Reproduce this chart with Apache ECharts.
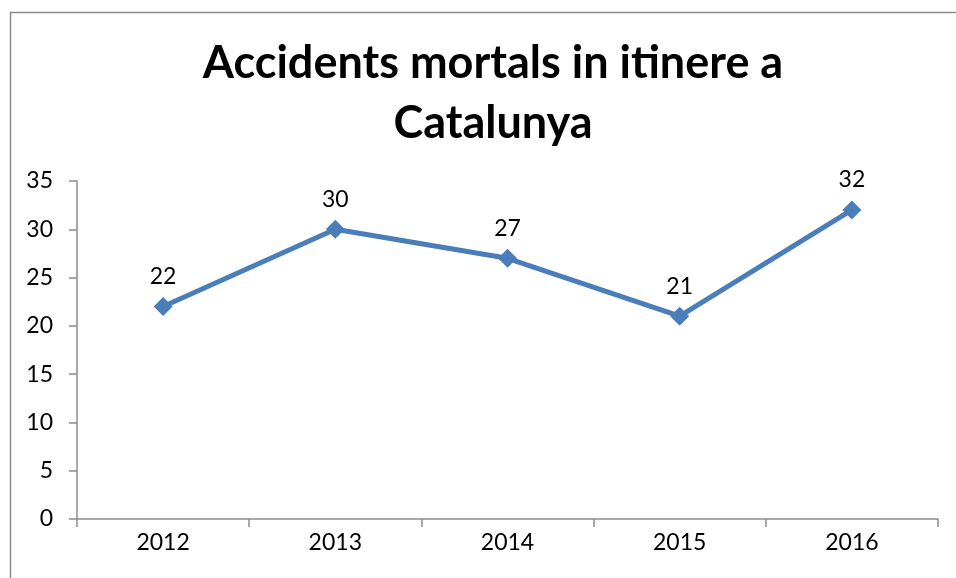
<!DOCTYPE html>
<html>
<head>
<meta charset="utf-8">
<script src="https://cdn.jsdelivr.net/npm/echarts@6/dist/echarts.min.js"></script>
<style>html,body{margin:0;padding:0;background:#fff}#c{width:956px;height:578px}</style>
</head>
<body>
<div id="c"></div>
<script>
var titleText = 'Accidents mortals in itinere a\nCatalunya';
var categories = ['2012', '2013', '2014', '2015', '2016'];
var values = [22, 30, 27, 21, 32];
var yTicks = [0, 5, 10, 15, 20, 25, 30, 35];

var chart = echarts.init(document.getElementById('c'), null, {renderer: 'canvas'});
var font = 'Lato, "Open Sans", sans-serif';
chart.setOption({
  animation: false,
  backgroundColor: '#fff',
  graphic: [{
    type: 'rect', left: 8, top: 10, shape: {x: 0, y: 0, width: 1200, height: 1200},
    style: {fill: 'none', stroke: '#8c8c8c', lineWidth: 1.5}, silent: true
  }],
  title: {
    text: titleText, left: 488, textAlign: 'center', top: 28,
    textStyle: {fontFamily: font, fontWeight: 'bold', fontSize: 45, lineHeight: 60, color: '#000'}
  },
  grid: {left: 77, right: 18, top: 181, bottom: 59, containLabel: false},
  xAxis: {
    type: 'category', data: categories, boundaryGap: true,
    axisLine: {lineStyle: {color: '#8c8c8c', width: 1.5}},
    axisTick: {show: true, length: 8, inside: false, lineStyle: {color: '#8c8c8c', width: 1.5}},
    axisLabel: {fontFamily: font, fontSize: 23, color: '#000', margin: 12}
  },
  yAxis: {
    type: 'value', min: yTicks[0], max: yTicks[yTicks.length - 1], interval: 5,
    axisLine: {show: true, lineStyle: {color: '#8c8c8c', width: 1.5}},
    axisTick: {show: true, length: 8, lineStyle: {color: '#8c8c8c', width: 1.5}},
    splitLine: {show: false},
    axisLabel: {fontFamily: font, fontSize: 23, color: '#000', margin: 24}
  },
  series: [{
    type: 'line', data: values,
    symbol: 'diamond', symbolSize: 19,
    itemStyle: {color: '#4a7ebb'},
    lineStyle: {color: '#4a7ebb', width: 5},
    label: {show: true, position: 'top', distance: 9, fontFamily: font, fontSize: 23, color: '#000'}
  }]
});
</script>
</body>
</html>
